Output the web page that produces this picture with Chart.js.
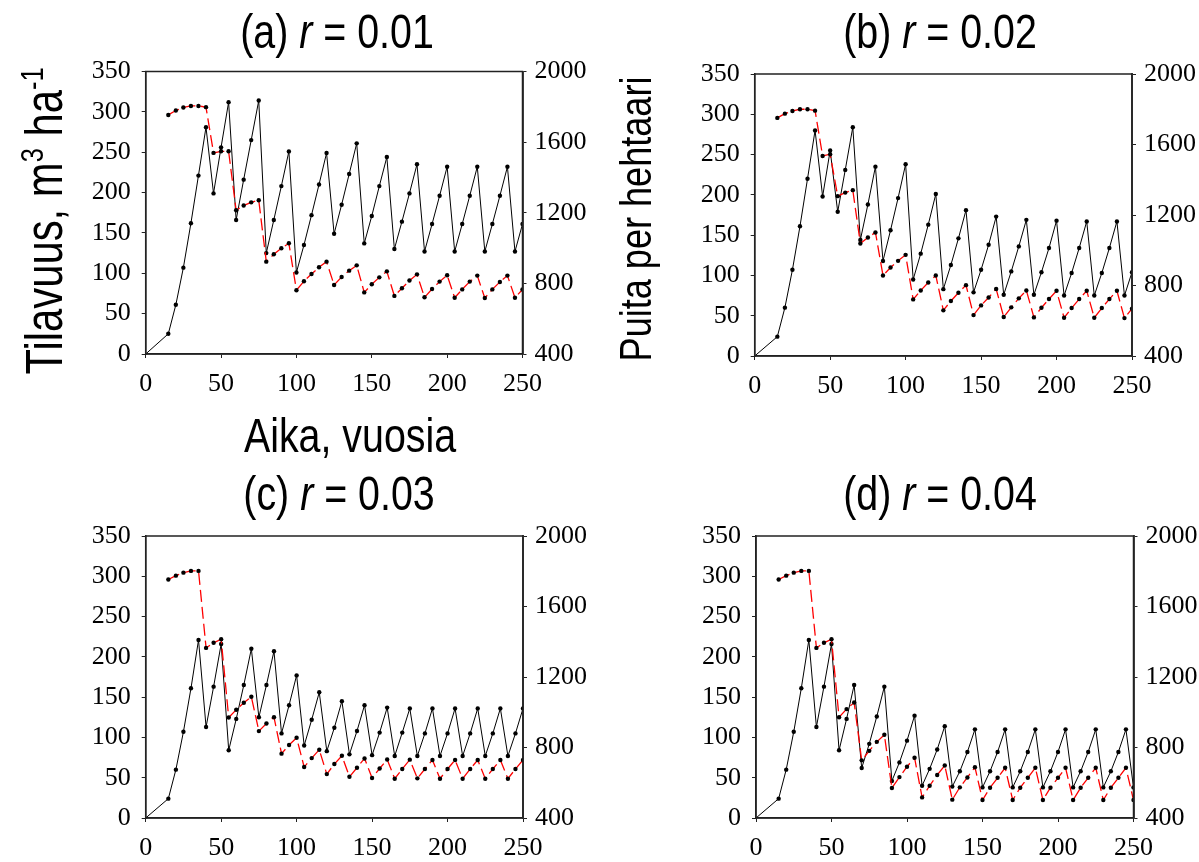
<!DOCTYPE html>
<html>
<head>
<meta charset="utf-8">
<script src="https://cdn.jsdelivr.net/npm/chart.js@4.4.1/dist/chart.umd.min.js"></script>
<style>
  body { margin: 0; background: #fff; }
  canvas { position: absolute; left: 0; top: 0; }
</style>
</head>
<body>
<canvas id="chartA" width="1199" height="862"></canvas>
<canvas id="chartB" width="1199" height="862"></canvas>
<canvas id="chartC" width="1199" height="862"></canvas>
<canvas id="chartD" width="1199" height="862"></canvas>
<script>
// years for the volume line (starts at 0) and for the tree count line (starts at 15)
const years = [0, 15, 20, 25, 30, 35, 40, 45, 50, 55, 60, 65, 70, 75, 80, 85, 90, 95, 100,
  105, 110, 115, 120, 125, 130, 135, 140, 145, 150, 155, 160, 165, 170, 175, 180, 185, 190,
  195, 200, 205, 210, 215, 220, 225, 230, 235, 240, 245, 250];
const treeYears = [15, 20, 25, 30, 35, 40, 45, 50, 55, 60, 65, 70, 75, 80, 85, 90, 95, 100,
  105, 110, 115, 120, 125, 130, 135, 140, 145, 150, 155, 160, 165, 170, 175, 180, 185, 190,
  195, 200, 205, 210, 215, 220, 225, 230, 235, 240, 245, 250];

// (a) r = 0.01
const volA = [0, 25, 61, 107, 162, 221, 281, 199, 256, 312, 166, 216, 265, 314, 125, 166, 208, 251,
  101, 135, 172, 210, 249, 149, 185, 223, 261, 137, 171, 208, 244, 130, 164, 199, 235, 127, 161,
  196, 232, 127, 161, 196, 232, 127, 161, 196, 232, 127, 161];
const treesA = [1754, 1779, 1796, 1805, 1805, 1798, 1539, 1548, 1548, 1214, 1241, 1259, 1271, 923,
  965, 999, 1027, 761, 812, 853, 891, 923, 791, 836, 872, 902, 749, 795, 834, 868, 729, 772, 816,
  851, 721, 768, 810, 846, 719, 766, 810, 844, 717, 766, 808, 844, 719, 765];

// (b) r = 0.02
const volB = [0, 24, 60, 107, 161, 220, 280, 198, 255, 179, 231, 284, 144, 188, 235, 118, 156, 196,
  238, 95, 127, 163, 201, 83, 113, 146, 181, 79, 107, 138, 173, 76, 105, 136, 169, 76, 104, 134,
  168, 75, 103, 134, 167, 75, 103, 134, 167, 75, 104];
const treesB = [1751, 1775, 1790, 1800, 1800, 1792, 1535, 1545, 1307, 1327, 1341, 1038, 1072, 1101,
  857, 902, 940, 974, 721, 772, 817, 857, 659, 712, 759, 802, 632, 687, 732, 780, 621, 676, 727,
  772, 619, 674, 723, 770, 617, 672, 723, 770, 617, 672, 723, 770, 615, 668];

// (c) r = 0.03
const volC = [0, 24, 60, 107, 161, 221, 113, 163, 216, 84, 123, 165, 210, 125, 165, 207, 105, 140,
  177, 90, 122, 156, 83, 112, 145, 79, 108, 140, 78, 106, 137, 77, 106, 136, 77, 105, 136, 77,
  105, 136, 77, 105, 136, 77, 105, 136, 77, 105, 136];
const treesC = [1753, 1775, 1792, 1802, 1802, 1365, 1394, 1414, 970, 1014, 1054, 1088, 893, 936,
  972, 765, 814, 855, 689, 740, 787, 649, 706, 753, 634, 685, 738, 627, 681, 732, 623, 678, 731,
  625, 678, 729, 623, 678, 729, 623, 678, 729, 623, 678, 729, 623, 678, 729];

// (d) r = 0.04
const volD = [0, 24, 60, 107, 161, 221, 113, 163, 216, 84, 123, 165, 62, 92, 126, 163, 46, 69, 96,
  127, 40, 61, 85, 114, 39, 58, 82, 110, 38, 58, 82, 110, 38, 58, 82, 110, 38, 58, 82, 110, 38,
  58, 82, 110, 38, 58, 82, 110, 38];
const treesD = [1753, 1775, 1792, 1802, 1802, 1365, 1394, 1414, 972, 1018, 1055, 727, 781, 832, 872,
  570, 632, 691, 742, 517, 583, 644, 698, 504, 574, 630, 688, 502, 572, 628, 685, 502, 572, 628,
  685, 502, 572, 628, 685, 502, 572, 628, 685, 502, 572, 628, 685, 502];

const panelLetters = ['(a) ', '(b) ', '(c) ', '(d) '];
const rValues = [' = 0.01', ' = 0.02', ' = 0.03', ' = 0.04'];

const W = 1199, H = 862;
const Y_W = 70, X_H = 60;
const LABEL_FONT = '"Liberation Sans", Arial, sans-serif';
const TICK_FONT = { family: '"Liberation Serif", "Times New Roman", serif', size: 26 };
const NARROW = 0.82; // squeeze sans text to look like a narrow face
const AXIS = '#222';

function drawRuns(ctx, t) {
  const size = t.size || 48;
  ctx.save();
  ctx.translate(t.x, t.y);
  ctx.rotate(t.rot || 0);
  ctx.scale(NARROW, 1);
  ctx.textBaseline = 'alphabetic';
  ctx.fillStyle = '#000';
  const fontOf = r => (r.italic ? 'italic ' : '') + (r.sup ? Math.round(size * 0.6) : size) + 'px ' + LABEL_FONT;
  let w = 0;
  t.runs.forEach(r => { ctx.font = fontOf(r); w += ctx.measureText(r.text).width; });
  let x = -w / 2;
  t.runs.forEach(r => {
    ctx.font = fontOf(r);
    ctx.fillText(r.text, x, r.sup ? -size * 0.38 : 0);
    x += ctx.measureText(r.text).width;
  });
  ctx.restore();
}

const textPlugin = texts => ({
  id: 'panelText',
  afterDraw(chart) {
    const ctx = chart.ctx;
    const a = chart.chartArea;
    ctx.save();
    ctx.strokeStyle = AXIS;
    ctx.lineWidth = 1.5;
    ctx.strokeRect(a.left, a.top, a.right - a.left, a.bottom - a.top);
    ctx.restore();
    texts.forEach(t => drawRuns(ctx, t));
  }
});

function panel(id, box, vol, trees, texts) {
  new Chart(document.getElementById(id), {
    type: 'line',
    data: {
      datasets: [
        {
          data: trees.map((v, i) => ({ x: treeYears[i], y: v })),
          yAxisID: 'y2',
          borderColor: '#ff0000',
          borderWidth: 1.3,
          borderDash: [12, 5],
          pointRadius: 2.2,
          pointBorderWidth: 0,
          pointBackgroundColor: '#000'
        },
        {
          data: vol.map((v, i) => ({ x: years[i], y: v })),
          yAxisID: 'y',
          borderColor: '#000',
          borderWidth: 1,
          pointRadius: ctx => ctx.dataIndex === 0 ? 0 : 2.2,
          pointBorderWidth: 0,
          pointBackgroundColor: '#000'
        }
      ]
    },
    options: {
      responsive: false,
      animation: false,
      layout: {
        padding: { left: box.l - Y_W, right: W - box.r - Y_W, top: box.t, bottom: H - box.b - X_H }
      },
      plugins: { legend: { display: false }, tooltip: { enabled: false } },
      scales: {
        x: {
          type: 'linear', min: 0, max: 250,
          ticks: { stepSize: 50, font: TICK_FONT, color: '#000', padding: 11, maxRotation: 0 },
          grid: { drawOnChartArea: false, tickLength: 4, color: AXIS },
          border: { color: AXIS, width: 1.5 },
          afterFit: s => { s.height = X_H; }
        },
        y: {
          position: 'left', min: 0, max: 350,
          ticks: { stepSize: 50, font: TICK_FONT, color: '#000', padding: 11 },
          grid: { drawOnChartArea: false, tickLength: 4, color: AXIS },
          border: { color: AXIS, width: 1.5 },
          afterFit: s => { s.width = Y_W; }
        },
        y2: {
          position: 'right', min: 400, max: 2000,
          ticks: { stepSize: 400, font: TICK_FONT, color: '#000', padding: 8, callback: v => String(v) },
          grid: { drawOnChartArea: false, tickLength: 4, color: AXIS },
          border: { color: '#444', width: 2 },
          afterFit: s => { s.width = Y_W; }
        }
      }
    },
    plugins: [textPlugin(texts)]
  });
}

const title = (i, x, y) => ({ x, y, runs: [
  { text: panelLetters[i] }, { text: 'r', italic: true }, { text: rValues[i] }
] });

panel('chartA', { l: 145.7, r: 522.5, t: 71.5, b: 354 }, volA, treesA, [
  title(0, 337, 48),
  { x: 62, y: 221, rot: -Math.PI / 2, size: 51, runs: [
    { text: 'Tilavuus, m' }, { text: '3', sup: true }, { text: ' ha' }, { text: '-1', sup: true }
  ] },
  { x: 651, y: 219, rot: -Math.PI / 2, size: 44, runs: [{ text: 'Puita per hehtaari' }] },
  { x: 350, y: 452, runs: [{ text: 'Aika, vuosia' }] }
]);
panel('chartB', { l: 754.7, r: 1132, t: 74, b: 356 }, volB, treesB, [title(1, 940, 48)]);
panel('chartC', { l: 145.7, r: 523, t: 536, b: 818 }, volC, treesC, [title(2, 339, 510)]);
panel('chartD', { l: 756, r: 1133.5, t: 536, b: 818 }, volD, treesD, [title(3, 940, 510)]);
</script>
</body>
</html>
